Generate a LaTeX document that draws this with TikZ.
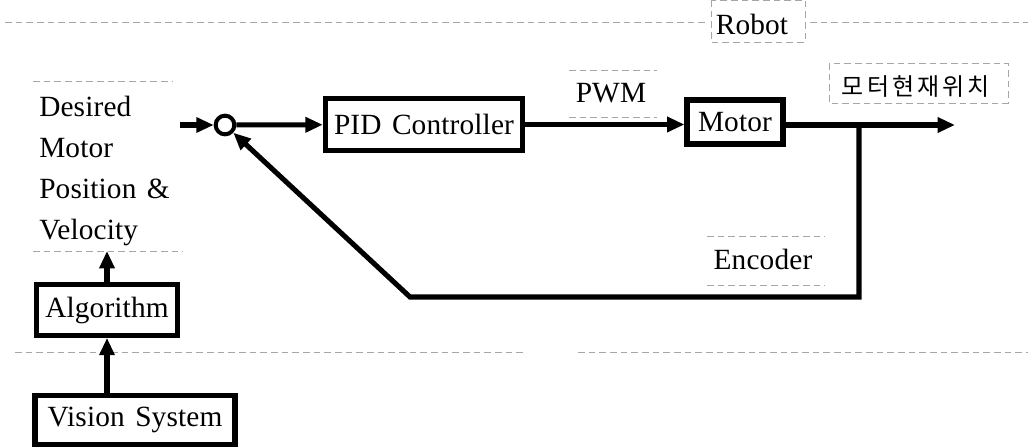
\documentclass[tikz,border=0pt]{standalone}
\usepackage{fontspec}
\setmainfont{Liberation Serif}[LetterSpace=0.5, WordSpace=1.4]
\newfontfamily\krfont{Noto Sans CJK KR}[LetterSpace=13]
\usetikzlibrary{arrows.meta}
\begin{document}
\begin{tikzpicture}[x=0.75pt,y=-0.75pt,
  txt/.style={font=\fontsize{22}{30.75}\selectfont, inner sep=0pt},
  blk/.style={draw, line width=3.8pt, inner sep=0pt, font=\fontsize{22}{26}\selectfont},
  conn/.style={line width=3.8pt, line join=miter},
  arr/.style={conn, -{Triangle[length=13pt,width=11pt]}},
  tframe/.style={black!35, line width=0.5pt, dash pattern=on 5pt off 3pt}]
\fill[white] (0,0) rectangle (1028,448);
\useasboundingbox (0,0) rectangle (1028,448);

% faint text frames and separating dashed lines
\draw[tframe] (5,22) -- (707,22);
\draw[tframe] (810,22) -- (1028,22);
\draw[tframe] (711,0) rectangle (805,42);
\draw[tframe] (15,352) -- (525,352);
\draw[tframe] (578,352) -- (1028,352);
\draw[tframe] (33,81) -- (173,81);
\draw[tframe] (33,251) -- (183,251);
\draw[tframe] (569,70) -- (657,70);
\draw[tframe] (569,117) -- (657,117);
\draw[tframe] (829,63) rectangle (1008,103);
\draw[tframe] (707,236) -- (825,236);
\draw[tframe] (707,285) -- (825,285);

% labels
\node[txt] (robot) at (752,24) {Robot};
\node[txt] (pwm) at (611,93) {PWM};
\node[txt, font=\krfont\fontsize{18}{20}\selectfont] (pos) at (916,87) {모터현재위치};
\node[txt] (enc) at (763,259) {Encoder};
\node[txt, align=left, anchor=west] (des) at (39,171) {Desired\\Motor\\Position \&\\Velocity};

% blocks
\node[blk, minimum width=148pt, minimum height=38.5pt] (pid) at (424,124.5) {PID Controller};
\node[blk, minimum width=72pt, minimum height=33pt] (motor) at (735,122) {Motor};
\node[blk, minimum width=106pt, minimum height=38pt] (alg) at (107,310) {Algorithm};
\node[blk, minimum width=150pt, minimum height=37pt] (vis) at (135,420) {Vision System};
\node[draw, circle, line width=3pt, minimum size=14pt, inner sep=0pt] (sum) at (225,125) {};

% coordinates
\coordinate (in) at (180,125);
\coordinate (out) at (955,125);
\coordinate (br) at (859,125);
\coordinate (c1) at (859,297);
\coordinate (c2) at (410,297);
\coordinate (desbot) at (107,251);

% connectors
\draw[arr] (in) -- (sum);
\draw[arr] (sum) -- (pid);
\draw[arr] (pid.east) -- (pid.east -| motor.west);
\draw[arr] (motor.east |- out) -- (out);
\draw[arr] (br) -- (c1) -- (c2) -- (sum);
\draw[arr] (alg.north) -- (desbot);
\draw[arr] (vis.north -| alg.south) -- (alg.south);
\end{tikzpicture}
\end{document}
